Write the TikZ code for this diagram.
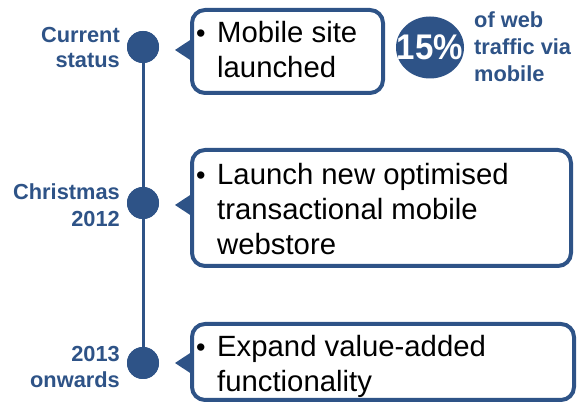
\documentclass[tikz,border=0pt]{standalone}
\usepackage{fontspec}
\setmainfont{Liberation Sans}
\usetikzlibrary{shapes.geometric}
\definecolor{tlblue}{RGB}{46,83,135}
\begin{document}
\begin{tikzpicture}[x=1pt,y=1pt,
  callout/.style={draw=tlblue,line width=4pt,rounded corners=13pt,fill=white},
  pointer/.style={fill=tlblue},
  dot/.style={circle,fill=tlblue,minimum size=32pt,inner sep=0pt},
  lbl/.style={text=tlblue,font=\fontsize{21.8}{25}\selectfont\bfseries,inner sep=0pt,anchor=base east},
  side/.style={text=tlblue,font=\fontsize{21.8}{25}\selectfont\bfseries,inner sep=0pt,anchor=base west},
  btxt/.style={font=\fontsize{29.3}{35}\selectfont,inner sep=0pt,anchor=base west},
  bul/.style={font=\fontsize{27}{35}\selectfont,inner sep=0pt,anchor=base west}]
\useasboundingbox (0,0) rectangle (579,403);
% dots and timeline
\node[dot] (d1) at (143,356) {};
\node[dot] (d2) at (143,200) {};
\node[dot] (d3) at (143,40) {};
\draw[tlblue,line width=3pt] (d1.center) -- (d3.center);
\node[dot] at (d1) {};
\node[dot] at (d2) {};
\node[dot] at (d3) {};
% labels
\node[lbl] (l1a) at (120,360) {Current};
\node[lbl] (l1b) at (120,335) {status};
\node[lbl] (l2a) at (120,203) {Christmas};
\node[lbl] (l2b) at (120,176) {2012};
\node[lbl] (l3a) at (120,41) {2013};
\node[lbl] (l3b) at (120,15) {onwards};
% pointers
\coordinate (t1) at (175,353);
\coordinate (t2) at (175,198);
\coordinate (t3) at (175,40);
\fill[pointer] (t1) -- (194,365.5) -- (194,340.5) -- cycle;
\fill[pointer] (t2) -- (194,210.5) -- (194,185.5) -- cycle;
\fill[pointer] (t3) -- (194,52.5) -- (194,27.5) -- cycle;
% boxes
\draw[callout] (192,310) rectangle (383,393);
\draw[callout] (192,137) rectangle (571,253);
\draw[callout] (192,3) rectangle (574,79);
% box texts
\node[bul] (b1) at (196,360) {\textbullet};
\node[btxt] (x1a) at (217,360) {Mobile site};
\node[btxt] (x1b) at (217,325) {launched};
\node[bul] (b2) at (196,218) {\textbullet};
\node[btxt] (x2a) at (217,218) {Launch new optimised};
\node[btxt] (x2b) at (217,183) {transactional mobile};
\node[btxt] (x2c) at (217,148) {webstore};
\node[bul] (b3) at (196,46) {\textbullet};
\node[btxt] (x3a) at (217,46) {Expand value-added};
\node[btxt] (x3b) at (217,11) {functionality};
% 15% badge
\node[ellipse,fill=tlblue,minimum width=68pt,minimum height=62pt,inner sep=0pt] (pc) at (430,355.5) {};
\node[text=white,font=\fontsize{33}{36}\selectfont\bfseries,inner sep=0pt,yscale=1.08] (pct) at (pc) {15\%};
\node[side] (s1) at (474,375) {of web};
\node[side] (s2) at (474,348) {traffic via};
\node[side] (s3) at (474,321) {mobile};
\end{tikzpicture}
\end{document}
